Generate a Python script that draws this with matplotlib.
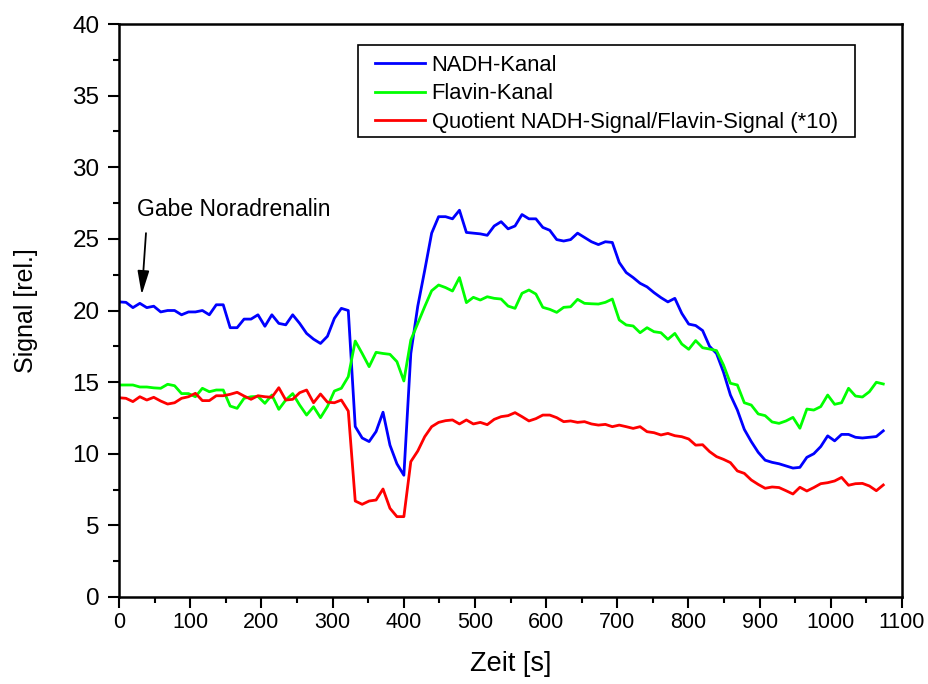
import numpy as np
import matplotlib
matplotlib.use("Agg")
import matplotlib.pyplot as plt
from matplotlib.ticker import MultipleLocator
from matplotlib.patches import Rectangle

plt.rcParams['font.family'] = ['Liberation Sans', 'DejaVu Sans']

# Sampling interval of the measurement [s]
dt = 9.76

nadh = [20.6, 20.57, 20.2, 20.5, 20.2, 20.3, 19.9, 20.0, 20.0, 19.7,
        19.9, 19.9, 20.0, 19.7, 20.4, 20.4, 18.8, 18.8, 19.4, 19.4,
        19.7, 18.9, 19.7, 19.1, 19.0, 19.7, 19.1, 18.4, 18.0, 17.7,
        18.2, 19.45, 20.15, 20.0, 11.9, 11.1, 10.85, 11.55, 12.9, 10.6,
        9.3, 8.5, 17.0, 20.3, 22.8, 25.4, 26.55, 26.55, 26.4, 27.0,
        25.45, 25.4, 25.35, 25.25, 25.9, 26.2, 25.7, 25.9, 26.7, 26.4,
        26.4, 25.8, 25.6, 24.95, 24.85, 24.95, 25.4, 25.1, 24.8, 24.6,
        24.8, 24.75, 23.35, 22.65, 22.3, 21.9, 21.65, 21.25, 20.9, 20.6,
        20.85, 19.8, 19.05, 18.95, 18.6, 17.5, 17.0, 15.7, 14.1, 13.05,
        11.7, 10.85, 10.1, 9.55, 9.4, 9.3, 9.15, 9.0, 9.05, 9.75,
        10.0, 10.5, 11.25, 10.9, 11.35, 11.35, 11.15, 11.1, 11.15, 11.2,
        11.6]

flavin = [14.8, 14.8, 14.8, 14.66, 14.66, 14.6, 14.57, 14.85, 14.75, 14.2,
          14.2, 13.98, 14.57, 14.33, 14.45, 14.45, 13.33, 13.17, 13.87, 13.98,
          14.0, 13.52, 14.1, 13.1, 13.75, 14.2, 13.4, 12.7, 13.28, 12.52,
          13.3, 14.38, 14.57, 15.38, 17.87, 17.0, 16.08, 17.08, 17.0, 16.94,
          16.43, 15.08, 17.94, 19.1, 20.27, 21.38, 21.78, 21.6, 21.36, 22.3,
          20.55, 20.92, 20.73, 20.96, 20.85, 20.8, 20.31, 20.15, 21.2, 21.43,
          21.15, 20.22, 20.08, 19.87, 20.22, 20.26, 20.78, 20.5, 20.47, 20.45,
          20.57, 20.8, 19.34, 18.99, 18.92, 18.45, 18.8, 18.52, 18.45, 17.99,
          18.4, 17.66, 17.29, 17.9, 17.4, 17.31, 17.2, 16.2, 14.92, 14.8,
          13.56, 13.4, 12.78, 12.66, 12.22, 12.12, 12.29, 12.54, 11.78, 13.12,
          13.05, 13.29, 14.1, 13.45, 13.56, 14.57, 14.03, 13.96, 14.33, 14.99,
          14.87]

quotient = [13.91, 13.87, 13.64, 13.98, 13.75, 13.94, 13.68, 13.47, 13.56, 13.87,
            13.98, 14.22, 13.71, 13.71, 14.05, 14.05, 14.15, 14.29, 14.03, 13.8,
            14.05, 13.98, 13.94, 14.61, 13.75, 13.8, 14.26, 14.45, 13.56, 14.17,
            13.6, 13.56, 13.75, 12.98, 6.7, 6.47, 6.7, 6.77, 7.54, 6.19,
            5.61, 5.61, 9.45, 10.19, 11.19, 11.89, 12.19, 12.31, 12.36, 12.08,
            12.36, 12.08, 12.19, 12.03, 12.4, 12.59, 12.66, 12.87, 12.59, 12.29,
            12.45, 12.7, 12.7, 12.52, 12.24, 12.29, 12.19, 12.24, 12.08, 12.0,
            12.05, 11.89, 12.0, 11.89, 11.77, 11.89, 11.54, 11.47, 11.31, 11.42,
            11.26, 11.19, 11.03, 10.6, 10.63, 10.15, 9.8, 9.61, 9.38, 8.8,
            8.63, 8.17, 7.86, 7.59, 7.68, 7.64, 7.42, 7.19, 7.66, 7.4,
            7.64, 7.91, 7.98, 8.1, 8.35, 7.8, 7.91, 7.93, 7.75, 7.42,
            7.82]

zeit = np.arange(len(nadh)) * dt

labels = ["NADH-Kanal", "Flavin-Kanal", "Quotient NADH-Signal/Flavin-Signal (*10)"]
colors = ["#0000ff", "#00ff00", "#ff0000"]

fig = plt.figure(figsize=(9.29, 6.84), dpi=100)
ax = fig.add_axes([0.1281, 0.1272, 0.8429, 0.8377])

for series, lab, col in zip([nadh, flavin, quotient], labels, colors):
    ax.plot(zeit, series, color=col, lw=2.0, label=lab, solid_joinstyle='round')

ax.set_xlim(0, 1100)
ax.set_ylim(0, 40)
ax.xaxis.set_major_locator(MultipleLocator(100))
ax.xaxis.set_minor_locator(MultipleLocator(50))
ax.yaxis.set_major_locator(MultipleLocator(5))
ax.yaxis.set_minor_locator(MultipleLocator(2.5))

for s in ax.spines.values():
    s.set_linewidth(1.8)
ax.tick_params(which='major', direction='out', length=8, width=1.5)
ax.tick_params(which='minor', direction='out', length=4, width=1.5)
ax.tick_params(axis='x', which='major', labelsize=15.5, pad=3)
ax.tick_params(axis='y', which='major', labelsize=17.5, pad=6)

ax.set_xlabel("Zeit [s]", fontsize=19.5)
ax.set_ylabel("Signal [rel.]", fontsize=18)
ax.xaxis.set_label_coords(0.5, -0.094)
ax.yaxis.set_label_coords(-0.104, 0.5)

# Legend entries without frame; frame drawn as separate box
leg = ax.legend(loc='upper left', bbox_to_anchor=(0.327, 0.946),
                borderaxespad=0, fontsize=15.8, frameon=False,
                handlelength=2.28, handletextpad=0.3,
                labelspacing=0.34, borderpad=0)
for line in leg.get_lines():
    line.set_linewidth(2.0)
ax.add_patch(Rectangle((0.3052, 0.8028), 0.6348, 0.1606, transform=ax.transAxes,
                       fill=False, edgecolor='black', lw=1.2, zorder=5))

ax.text(25.7, 27.06, "Gabe Noradrenalin", fontsize=16.5, va='center', ha='left')
ax.annotate("", xy=(31.9, 21.1), xytext=(37.9, 25.4),
            arrowprops=dict(arrowstyle='-|>,head_length=0.9,head_width=0.22',
                            color='black', lw=1.3, shrinkA=0, shrinkB=0,
                            mutation_scale=16))

fig.savefig("out.png", dpi=100)
